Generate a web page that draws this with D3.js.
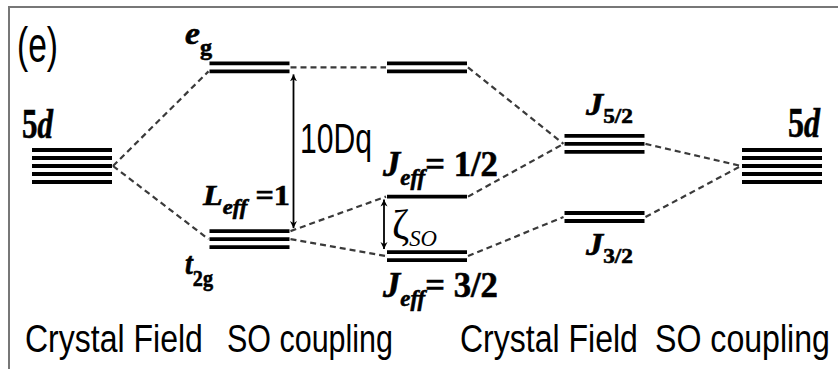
<!DOCTYPE html>
<html>
<head>
<meta charset="utf-8">
<script src="https://cdn.jsdelivr.net/npm/d3@7"></script>
<style>
	body { margin: 0; background: #fff; }
	svg { display: block; }
</style>
</head>
<body>
<svg id="chart" width="838" height="369"></svg>
<script>

// energy levels, 5d = 0 (arbitrary units)
var levelNames = ["5d", "eg", "t2g", "eg'", "Jeff1/2", "Jeff3/2", "J5/2", "J3/2", "5d'"];
var levelColumns = [0, 1, 1, 2, 2, 2, 3, 3, 4];
var levelEnergies = [0, 5.8, -4.3, 5.8, -1.8, -5.3, 1.3, -3.0, 0];
var levelLines = [5, 2, 3, 2, 1, 2, 3, 2, 5];

// dashed correlation lines (level index), and which sub-line they touch (-1 = centre)
var linkFrom = [0, 0, 1, 3, 2, 2, 4, 5, 6, 7];
var linkTo = [1, 2, 3, 6, 4, 5, 6, 7, 8, 8];
var linkFromLine = [-1, -1, -1, -1, 0, -1, -1, -1, -1, -1];
var linkToLine = [1, -1, -1, -1, -1, -1, -1, -1, -1, -1];

// splitting arrows: [upper level, lower level]
var arrowPairs = [[1, 2], [4, 5]];

var bottomLabels = ["Crystal Field", "SO coupling"];

var svg = d3.select("#chart");
var levelWidth = 80;
var lineGap = 8;

var x = d3.scaleLinear().domain([0, 4]).range([32, 742]);
var y = d3.scaleLinear().domain([-6, 6]).range([268, 64]);

// y of the k-th line of a level
function lineY(i, k){
	var n = levelLines[i];
	if (k < 0) return y(levelEnergies[i]);
	return y(levelEnergies[i]) + (k - (n - 1) / 2) * lineGap;
}

// frame
svg.append("path")
	.attr("d", "M9,369 V7 H838")
	.attr("fill", "none")
	.attr("stroke", "#777")
	.attr("stroke-width", 2);

// dashed links
for (var j = 0; j < linkFrom.length; j++){
	var a = linkFrom[j], b = linkTo[j];
	svg.append("line")
		.attr("x1", x(levelColumns[a]) + levelWidth + 1)
		.attr("y1", lineY(a, linkFromLine[j]))
		.attr("x2", x(levelColumns[b]) - 1)
		.attr("y2", lineY(b, linkToLine[j]))
		.attr("stroke", "#3a3a3a")
		.attr("stroke-width", 2.2)
		.attr("stroke-dasharray", "6,4");
}

// levels
levelNames.forEach(function(name, i){
	var g = svg.append("g").attr("class", "level");
	for (var k = 0; k < levelLines[i]; k++){
		g.append("line")
			.attr("x1", x(levelColumns[i]))
			.attr("x2", x(levelColumns[i]) + levelWidth)
			.attr("y1", lineY(i, k))
			.attr("y2", lineY(i, k))
			.attr("stroke", "#000")
			.attr("stroke-width", 3.8);
	}
});

// arrows
var defs = svg.append("defs");
defs.append("marker")
	.attr("id", "head")
	.attr("viewBox", "0 0 10 10")
	.attr("refX", 10).attr("refY", 5)
	.attr("markerWidth", 7).attr("markerHeight", 9)
	.attr("markerUnits", "userSpaceOnUse")
	.attr("orient", "auto-start-reverse")
	.append("path")
	.attr("d", "M0,0 L10,5 L0,10 L3,5 Z")
	.attr("fill", "#000");

var arrowX = [x(1) + levelWidth + 4, x(2) - 3];
arrowPairs.forEach(function(p, i){
	var top = lineY(p[0], levelLines[p[0]] - 1) + 3;
	var bot = lineY(p[1], 0) - 3;
	svg.append("line")
		.attr("x1", arrowX[i]).attr("x2", arrowX[i])
		.attr("y1", top).attr("y2", bot)
		.attr("stroke", "#000")
		.attr("stroke-width", 1.8)
		.attr("marker-start", "url(#head)")
		.attr("marker-end", "url(#head)");
});

// text helper: squeezes the text to the width seen in the picture
var SERIF = "'Liberation Serif', 'Times New Roman', serif";
var SANS = "'Liberation Sans', Arial, sans-serif";
function label(px, py, w, parts, size, family, heavy){
	var t = svg.append("text")
		.attr("font-family", family)
		.attr("font-size", size)
		.attr("fill", "#000");
	if (heavy){
		t.attr("stroke", "#000").attr("stroke-width", 0.6);
	}
	parts.forEach(function(p){
		t.append("tspan")
			.text(p.t)
			.attr("font-style", p.i ? "italic" : "normal")
			.attr("font-weight", p.b ? "bold" : "normal")
			.attr("font-size", p.s || size)
			.attr("dy", p.dy || 0);
	});
	var natural = t.node().getComputedTextLength();
	t.attr("transform", "translate(" + px + "," + py + ") scale(" + (w / natural) + ",1)");
}

label(17, 62, 41, [{t: "(e)"}], 50, SANS);
label(300, 153, 72, [{t: "10Dq"}], 43, SANS);

label(22, 138, 31, [{t: "5", b: 1}, {t: "d", b: 1, i: 1}], 42, SERIF, 1);
label(788, 137, 32, [{t: "5", b: 1}, {t: "d", b: 1, i: 1}], 42, SERIF, 1);

label(185, 44, 27, [{t: "e", b: 1, i: 1}, {t: "g", b: 1, s: 23, dy: 11}], 32, SERIF, 1);
label(185, 274, 28, [{t: "t", b: 1, i: 1}, {t: "2g", b: 1, s: 23, dy: 12}], 32, SERIF, 1);

label(203, 205, 87, [{t: "L", b: 1, i: 1}, {t: "eff", b: 1, i: 1, s: 21, dy: 9}, {t: " =1", b: 1, dy: -9}], 30, SERIF, 1);
label(383, 176, 115, [{t: "J", b: 1, i: 1}, {t: "eff", b: 1, i: 1, s: 23, dy: 9}, {t: "= 1/2", b: 1, dy: -9}], 35, SERIF, 1);
label(383, 297, 115, [{t: "J", b: 1, i: 1}, {t: "eff", b: 1, i: 1, s: 23, dy: 9}, {t: "= 3/2", b: 1, dy: -9}], 35, SERIF, 1);

label(586, 115, 47, [{t: "J", b: 1, i: 1}, {t: "5/2", b: 1, s: 21, dy: 8}], 31, SERIF, 1);
label(586, 255, 47, [{t: "J", b: 1, i: 1}, {t: "3/2", b: 1, s: 21, dy: 8}], 31, SERIF, 1);

label(392, 239, 45, [{t: "ζ"}, {t: "SO", i: 1, s: 23, dy: 7}], 42, SERIF);

// bottom captions, twice
var captionX = [[25, 178], [227, 166], [460, 178], [655, 175]];
[0, 1].forEach(function(half){
	bottomLabels.forEach(function(txt, k){
		var c = captionX[half * 2 + k];
		label(c[0], 352, c[1], [{t: txt}], 39, SANS);
	});
});

</script>
</body>
</html>
